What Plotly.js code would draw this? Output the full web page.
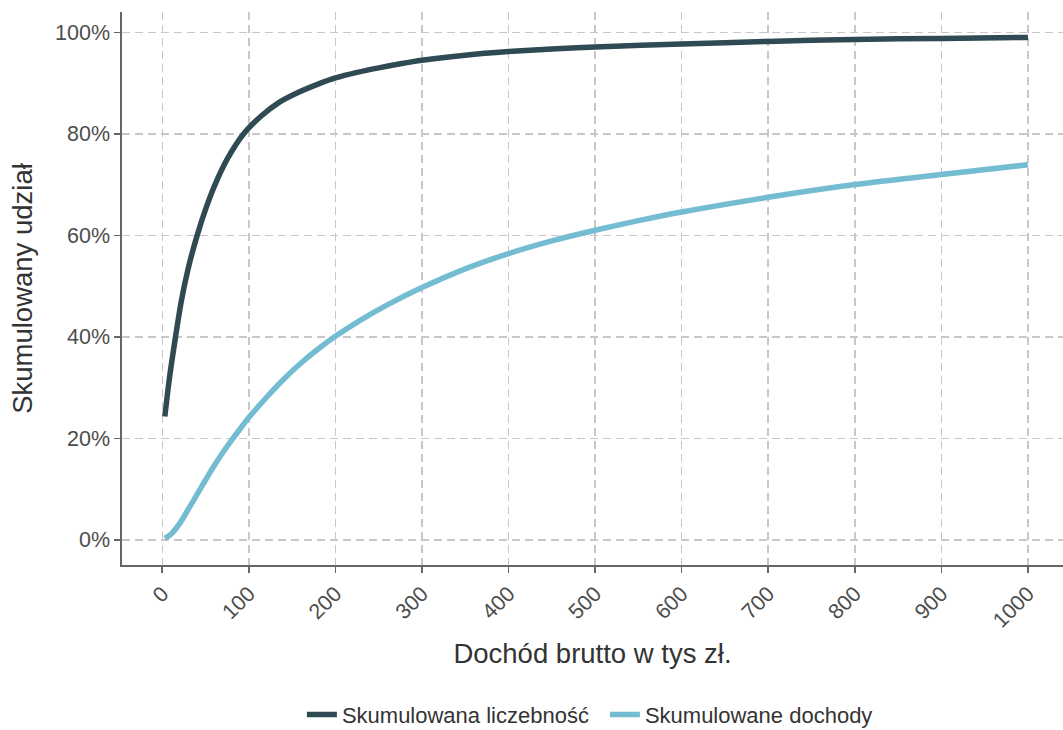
<!DOCTYPE html>
<html>
<head>
<meta charset="utf-8">
<script src="https://cdn.plot.ly/plotly-3.0.1.min.js"></script>
<style>html,body{margin:0;padding:0;background:#fff;}#chart{width:1063px;height:730px;}</style>
</head>
<body>
<div id="chart"></div>
<script>
// Skumulowana liczebność (cumulative count share, %)
const countX = [3, 8, 14, 22, 30, 40, 50, 60, 75, 95, 115, 135, 155, 180, 200, 225, 250, 275, 300, 350, 400, 450, 500, 600, 700, 800, 900, 1000];
const countY = [24.3, 31.5, 38.5, 47, 53.5, 59.8, 65.1, 69.6, 75.0, 80.2, 83.6, 86.2, 88.0, 89.8, 91.0, 92.1, 93.0, 93.8, 94.5, 95.5, 96.2, 96.7, 97.1, 97.7, 98.2, 98.6, 98.8, 99.0];
// Skumulowane dochody (cumulative income share, %)
const incomeX = [3, 10, 20, 30, 40, 50, 60, 70, 80, 90, 100, 120, 140, 160, 180, 200, 230, 260, 300, 350, 400, 450, 500, 550, 600, 700, 800, 900, 1000];
const incomeY = [0.3, 1.1, 3.2, 6.0, 8.9, 11.8, 14.6, 17.2, 19.6, 21.9, 24.1, 28.0, 31.6, 34.8, 37.6, 40.1, 43.4, 46.3, 49.7, 53.4, 56.4, 58.9, 61, 62.9, 64.6, 67.5, 70, 72, 73.9];
const xTicks = [0, 100, 200, 300, 400, 500, 600, 700, 800, 900, 1000];
const yTicks = [0, 20, 40, 60, 80, 100];
const seriesNames = ['Skumulowana liczebność', 'Skumulowane dochody'];

const font = 'Liberation Sans, Arial, sans-serif';
const traces = [
  {x: countX, y: countY, name: seriesNames[0], type: 'scatter', mode: 'lines',
   line: {color: '#2F4A52', width: 5.5, shape: 'spline', smoothing: 0.8}},
  {x: incomeX, y: incomeY, name: seriesNames[1], type: 'scatter', mode: 'lines',
   line: {color: '#74BCD1', width: 5.5, shape: 'spline', smoothing: 0.8}}
];

const layout = {
  width: 1063, height: 730,
  margin: {l: 122, r: 0, t: 12, b: 165},
  paper_bgcolor: '#ffffff', plot_bgcolor: '#ffffff',
  font: {family: font, color: '#4D4D4D'},
  showlegend: true,
  legend: {orientation: 'h', x: 0.284, xanchor: 'left', xref: 'container', y: 0.021, yanchor: 'middle', yref: 'container',
           font: {size: 22, color: '#333333', family: font}, itemwidth: 30, tracegroupgap: 0,
           entrywidth: 258, entrywidthmode: 'pixels'},
  xaxis: {
    range: [-46.5, 1040.5], tickvals: xTicks, ticktext: xTicks.map(String), tickangle: -45,
    showgrid: true, gridcolor: '#C8C8C8', gridwidth: 1.5, griddash: '8px,5px',
    showline: true, linecolor: '#666666', linewidth: 1.6,
    ticks: 'outside', ticklen: 6, tickcolor: '#666666', tickwidth: 1.6,
    tickfont: {size: 21.5, color: '#4D4D4D', family: font},
    zeroline: false,
    title: {text: 'Dochód brutto w tys zł.', font: {size: 27.5, color: '#333333', family: font}, standoff: 12}
  },
  yaxis: {
    range: [-4.95, 104], tickvals: yTicks, ticktext: yTicks.map(v => v + '%'),
    showgrid: true, gridcolor: '#C8C8C8', gridwidth: 1.5, griddash: '8px,5px',
    showline: true, linecolor: '#666666', linewidth: 1.6,
    ticks: 'outside', ticklen: 6, tickcolor: '#666666', tickwidth: 1.6,
    tickfont: {size: 21.5, color: '#4D4D4D', family: font},
    zeroline: false,
    title: {text: 'Skumulowany udział', font: {size: 27.5, color: '#333333', family: font}, standoff: 14}
  }
};

Plotly.newPlot('chart', traces, layout, {displayModeBar: false, staticPlot: true});
</script>
</body>
</html>
